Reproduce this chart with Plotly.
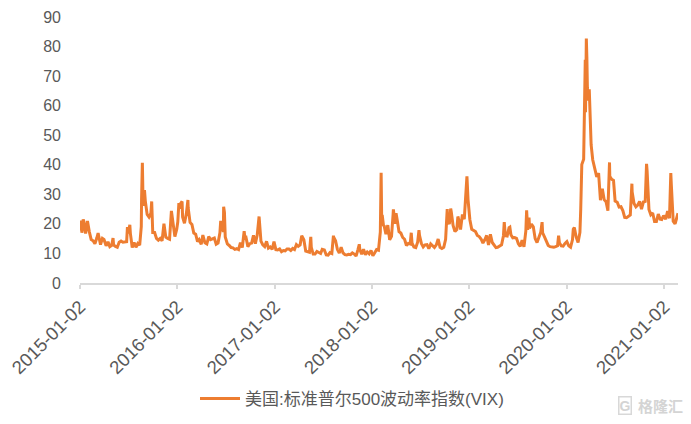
import plotly.graph_objects as go

# ---- data ----
dates_2015 = ["2015-01-02","2015-01-06","2015-01-09","2015-01-14","2015-01-16","2015-01-23","2015-01-30",
              "2015-02-06","2015-02-13","2015-02-20","2015-02-27","2015-03-06","2015-03-11","2015-03-13",
              "2015-03-20","2015-03-27","2015-04-02","2015-04-10","2015-04-17","2015-04-24","2015-05-01",
              "2015-05-06","2015-05-08","2015-05-15","2015-05-22","2015-05-29","2015-06-05","2015-06-12",
              "2015-06-19","2015-06-26","2015-06-29","2015-07-02","2015-07-08","2015-07-10","2015-07-17",
              "2015-07-24","2015-07-31","2015-08-07","2015-08-14","2015-08-20","2015-08-21","2015-08-24",
              "2015-08-25","2015-08-26","2015-08-28","2015-09-01","2015-09-04","2015-09-11","2015-09-18",
              "2015-09-25","2015-09-28","2015-10-02","2015-10-09","2015-10-16","2015-10-23","2015-10-30",
              "2015-11-06","2015-11-13","2015-11-20","2015-11-27","2015-12-04","2015-12-11","2015-12-14",
              "2015-12-18","2015-12-24","2015-12-31"]
vix_2015 = [17.8,21.1,17.0,21.5,21.0,16.7,21.0,
            17.3,14.7,14.3,13.3,15.2,16.9,16.0,
            13.0,15.1,14.7,12.6,13.9,12.3,12.7,
            15.2,12.9,12.4,12.1,13.8,14.2,13.8,
            14.0,14.0,18.9,16.8,19.7,16.8,12.0,
            13.7,12.1,13.4,12.8,19.1,28.0,40.7,
            36.0,30.3,26.1,31.4,27.8,23.2,22.3,
            23.6,27.6,17.1,17.1,15.1,14.5,15.1,
            14.3,20.1,15.5,15.1,14.8,24.4,22.7,
            20.7,15.7,18.2]

dates_2016 = ["2016-01-04","2016-01-08","2016-01-13","2016-01-15","2016-01-20","2016-01-22","2016-01-29",
              "2016-02-05","2016-02-11","2016-02-12","2016-02-19","2016-02-26","2016-03-04","2016-03-11",
              "2016-03-18","2016-03-24","2016-04-01","2016-04-07","2016-04-15","2016-04-22","2016-04-29",
              "2016-05-06","2016-05-13","2016-05-20","2016-05-27","2016-06-03","2016-06-10","2016-06-13",
              "2016-06-17","2016-06-23","2016-06-24","2016-06-27","2016-06-30","2016-07-08","2016-07-15",
              "2016-07-22","2016-07-29","2016-08-05","2016-08-12","2016-08-19","2016-08-26","2016-09-02",
              "2016-09-09","2016-09-12","2016-09-16","2016-09-23","2016-09-30","2016-10-07","2016-10-14",
              "2016-10-21","2016-10-28","2016-11-04","2016-11-11","2016-11-18","2016-11-25","2016-12-02",
              "2016-12-09","2016-12-16","2016-12-23","2016-12-30"]
vix_2016 = [20.7,27.0,25.2,27.0,27.6,22.3,20.2,
            23.4,28.1,25.4,20.5,19.8,16.9,16.5,
            14.0,14.7,13.1,16.2,13.6,13.2,15.7,
            14.7,15.0,15.2,13.1,13.5,17.0,21.0,
            19.4,17.3,25.8,23.9,15.6,13.2,12.7,
            12.0,11.9,11.4,11.6,11.3,13.7,12.0,
            17.5,15.2,15.4,12.3,13.3,13.5,16.1,
            13.3,16.2,22.5,14.2,12.9,12.3,14.1,
            11.8,12.2,11.4,14.0]

dates_2017 = ["2017-01-06","2017-01-13","2017-01-20","2017-01-27","2017-02-03","2017-02-10","2017-02-17",
              "2017-02-24","2017-03-03","2017-03-10","2017-03-17","2017-03-21","2017-03-24","2017-03-31",
              "2017-04-07","2017-04-13","2017-04-21","2017-04-28","2017-05-05","2017-05-12","2017-05-17",
              "2017-05-19","2017-05-26","2017-06-02","2017-06-09","2017-06-16","2017-06-23","2017-06-29",
              "2017-07-07","2017-07-14","2017-07-21","2017-07-28","2017-08-04","2017-08-10","2017-08-11",
              "2017-08-18","2017-08-25","2017-09-01","2017-09-08","2017-09-15","2017-09-22","2017-09-29",
              "2017-10-06","2017-10-13","2017-10-20","2017-10-27","2017-11-03","2017-11-10","2017-11-15",
              "2017-11-17","2017-11-24","2017-12-01","2017-12-08","2017-12-15","2017-12-22","2017-12-29"]
vix_2017 = [11.3,11.2,11.5,10.6,11.0,10.9,11.5,
            11.5,11.0,11.7,11.3,12.5,13.0,12.4,
            12.9,16.0,14.6,10.8,10.6,10.4,15.6,
            12.0,9.8,9.8,10.7,10.4,10.0,11.4,
            11.2,9.5,9.4,10.3,10.0,16.0,15.5,
            14.3,11.3,10.1,12.1,10.2,9.6,9.5,
            9.7,9.6,10.2,9.8,9.1,11.3,13.1,
            11.4,9.7,11.4,9.6,10.5,9.9,11.0]

dates_2018 = ["2018-01-05","2018-01-12","2018-01-19","2018-01-26","2018-02-02","2018-02-05","2018-02-06",
              "2018-02-07","2018-02-09","2018-02-14","2018-02-16","2018-02-23","2018-03-02","2018-03-09",
              "2018-03-16","2018-03-22","2018-03-23","2018-03-29","2018-04-02","2018-04-06","2018-04-13",
              "2018-04-20","2018-04-27","2018-05-04","2018-05-11","2018-05-18","2018-05-25","2018-05-29",
              "2018-06-01","2018-06-08","2018-06-15","2018-06-22","2018-06-27","2018-06-29","2018-07-06",
              "2018-07-13","2018-07-20","2018-07-27","2018-08-03","2018-08-10","2018-08-17","2018-08-24",
              "2018-08-31","2018-09-07","2018-09-14","2018-09-21","2018-09-28","2018-10-05","2018-10-11",
              "2018-10-12","2018-10-19","2018-10-24","2018-10-26","2018-11-02","2018-11-09","2018-11-16",
              "2018-11-20","2018-11-23","2018-11-30","2018-12-07","2018-12-14","2018-12-21","2018-12-24",
              "2018-12-28","2018-12-31"]
vix_2018 = [9.2,10.2,11.3,11.1,17.3,37.3,26.0,
            22.5,23.0,19.3,19.5,16.5,19.6,14.6,
            15.8,23.3,24.9,20.0,23.6,21.5,17.4,
            16.9,15.4,14.8,12.7,13.4,13.2,17.0,
            13.5,12.2,12.0,13.8,17.9,16.1,13.4,
            12.2,12.9,13.0,11.6,13.2,12.6,12.0,
            12.9,14.9,12.1,11.7,12.1,14.8,25.0,
            21.3,19.9,25.2,24.2,19.5,17.4,18.1,
            22.5,21.5,18.1,23.2,21.6,30.1,36.1,
            28.3,25.4]

dates_2019 = ["2019-01-04","2019-01-11","2019-01-18","2019-01-25","2019-02-01","2019-02-08","2019-02-15",
              "2019-02-22","2019-03-01","2019-03-08","2019-03-15","2019-03-22","2019-03-29","2019-04-05",
              "2019-04-12","2019-04-18","2019-04-26","2019-05-03","2019-05-10","2019-05-13","2019-05-17",
              "2019-05-24","2019-05-31","2019-06-03","2019-06-07","2019-06-14","2019-06-21","2019-06-28",
              "2019-07-05","2019-07-12","2019-07-19","2019-07-26","2019-08-02","2019-08-05","2019-08-09",
              "2019-08-14","2019-08-16","2019-08-23","2019-08-30","2019-09-06","2019-09-13","2019-09-20",
              "2019-09-27","2019-10-02","2019-10-04","2019-10-11","2019-10-18","2019-10-25","2019-11-01",
              "2019-11-08","2019-11-15","2019-11-22","2019-11-29","2019-12-03","2019-12-06","2019-12-13",
              "2019-12-20","2019-12-27","2019-12-31"]
vix_2019 = [21.4,18.2,17.8,17.4,16.1,15.7,14.9,
            13.5,14.6,16.1,12.9,16.5,13.7,12.8,
            12.0,12.1,12.7,12.9,16.0,20.6,16.0,
            15.9,18.7,18.9,16.3,15.3,15.4,15.1,
            13.3,12.4,14.5,12.2,17.6,24.6,18.0,
            22.1,18.5,19.9,19.0,15.0,13.7,15.3,
            17.2,20.6,17.0,15.6,14.3,12.7,12.3,
            12.1,12.1,12.3,12.6,16.0,13.6,12.6,
            12.5,13.4,13.8]

dates_2020 = ["2020-01-03","2020-01-10","2020-01-17","2020-01-24","2020-01-27","2020-01-31","2020-02-07",
              "2020-02-14","2020-02-21","2020-02-24","2020-02-25","2020-02-27","2020-02-28","2020-03-06",
              "2020-03-09","2020-03-12","2020-03-13","2020-03-16","2020-03-18","2020-03-20","2020-03-24",
              "2020-03-27","2020-04-03","2020-04-09","2020-04-17","2020-04-24","2020-05-01","2020-05-08",
              "2020-05-15","2020-05-22","2020-05-29","2020-06-05","2020-06-11","2020-06-12","2020-06-19",
              "2020-06-26","2020-07-02","2020-07-10","2020-07-17","2020-07-24","2020-07-31","2020-08-07",
              "2020-08-14","2020-08-21","2020-08-28","2020-09-03","2020-09-04","2020-09-11","2020-09-18",
              "2020-09-25","2020-10-02","2020-10-09","2020-10-16","2020-10-23","2020-10-28","2020-10-30",
              "2020-11-06","2020-11-13","2020-11-20","2020-11-27","2020-12-04","2020-12-11","2020-12-18",
              "2020-12-24","2020-12-31"]
vix_2020 = [14.0,12.6,12.1,14.6,18.2,18.8,15.5,
            13.7,17.1,25.0,27.9,39.2,40.1,41.9,
            54.5,75.5,57.8,82.7,76.5,66.0,61.7,
            65.5,46.8,41.7,38.2,35.9,37.2,28.0,
            31.9,28.2,27.5,24.5,40.8,36.1,35.1,
            34.7,27.7,27.3,25.7,25.8,24.5,22.2,
            22.1,22.5,23.0,33.6,30.8,26.9,25.8,
            26.4,27.6,25.0,27.4,27.6,40.3,38.0,
            24.9,23.1,23.7,20.8,20.8,23.3,21.6,
            21.5,22.8]

dates_2021 = ["2021-01-08","2021-01-15","2021-01-22","2021-01-27","2021-01-29","2021-02-05","2021-02-12",
              "2021-02-19","2021-02-23"]
vix_2021 = [21.6,24.3,21.9,37.2,33.1,20.9,20.0,
            22.1,23.6]

tick_dates = ["2015-01-02","2016-01-02","2017-01-02","2018-01-02","2019-01-02","2020-01-02","2021-01-02"]
series_name = "美国:标准普尔500波动率指数(VIX)"

dates = dates_2015 + dates_2016 + dates_2017 + dates_2018 + dates_2019 + dates_2020 + dates_2021
vix = vix_2015 + vix_2016 + vix_2017 + vix_2018 + vix_2019 + vix_2020 + vix_2021

FONT = "Liberation Sans, Arial, Noto Sans CJK SC, sans-serif"
GREY = "#595959"

L, R, T, B = 80, 13, 17, 141
W, H = 691, 424
PW, PH = W - L - R, H - T - B

def px(x, y):
    return (x - L) / PW, (H - B - y) / PH

fig = go.Figure()
fig.add_trace(go.Scatter(x=dates, y=vix, mode="lines", name=series_name,
                         line=dict(color="#ED7D31", width=3)))

gx, gy = px(625, 405)
tx, ty = px(636, 405)
lx, ly = px(352, 399)

fig.update_layout(
    width=W, height=H,
    margin=dict(l=L, r=R, t=T, b=B, autoexpand=False),
    paper_bgcolor="white", plot_bgcolor="white",
    font=dict(family=FONT, color=GREY, size=16),
    showlegend=True,
    legend=dict(orientation="h", x=lx, xanchor="center", y=ly, yanchor="middle",
                font=dict(size=17, color=GREY), itemwidth=40),
    xaxis=dict(type="date", range=["2015-01-02", "2021-02-23"], automargin=False,
               tickmode="array", tickvals=tick_dates, ticktext=tick_dates,
               tickangle=-45, showgrid=False, zeroline=False,
               showline=True, linecolor="#d9d9d9", linewidth=1.5,
               ticks="outside", ticklen=4, tickcolor="#d9d9d9", tickwidth=1.5,
               tickfont=dict(size=18.5, color=GREY)),
    yaxis=dict(range=[0, 90], dtick=10, tick0=0, showgrid=False, zeroline=False,
               showline=False, ticks="", ticklabelstandoff=18, automargin=False,
               tickfont=dict(size=16, color=GREY)),
    annotations=[
        dict(text="<b>G</b>", x=gx, y=gy, xref="paper", yref="paper", showarrow=False,
             xanchor="center", yanchor="middle",
             font=dict(size=14, color="#d4d4d4"), bordercolor="#d8d8d8", borderwidth=1.5,
             borderpad=0),
        dict(text="<b>格隆汇</b>", x=tx, y=ty, xref="paper", yref="paper", showarrow=False,
             xanchor="left", yanchor="middle",
             font=dict(size=15, color="#d4d4d4", family="Noto Sans CJK SC")),
    ],
)

fig.write_html("out.html", config={"displayModeBar": False},
               post_script="document.body.style.margin='0';")
